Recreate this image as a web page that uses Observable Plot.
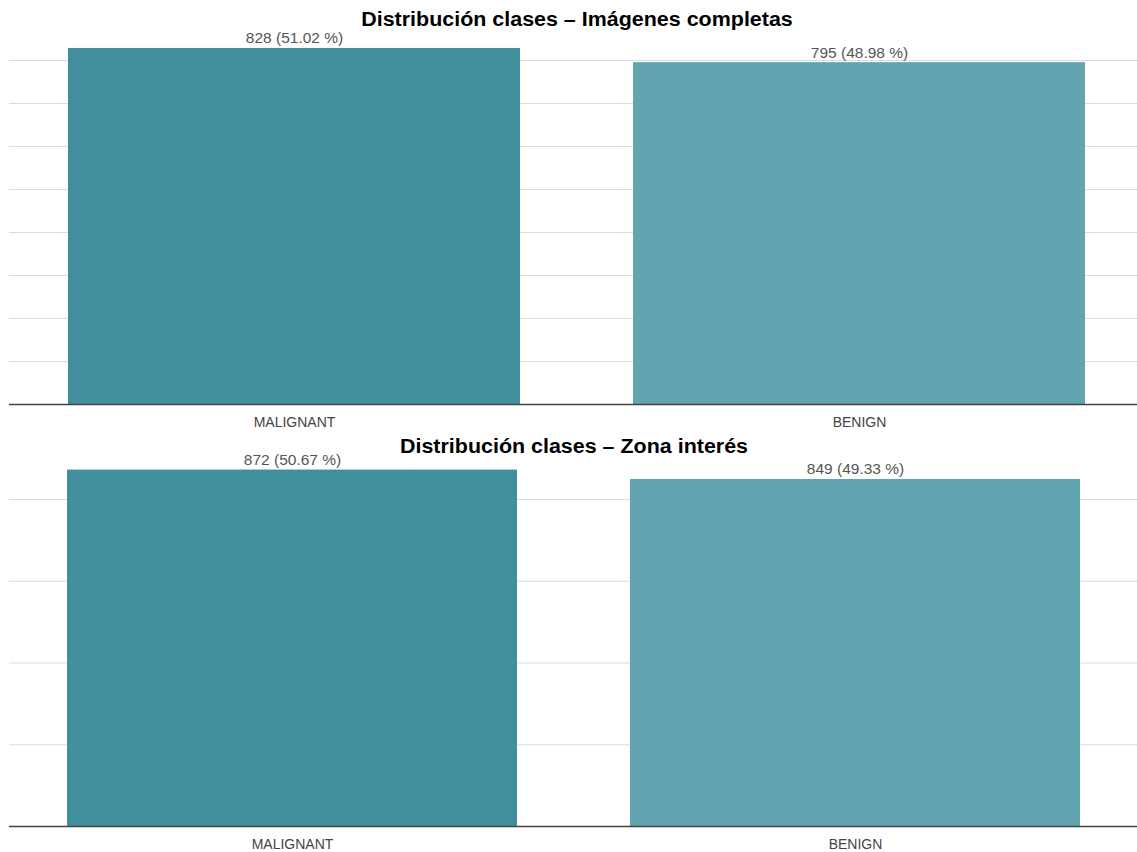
<!DOCTYPE html>
<html>
<head>
<meta charset="utf-8">
<script src="https://cdn.jsdelivr.net/npm/d3@7"></script>
<script src="https://cdn.jsdelivr.net/npm/@observablehq/plot@0.6"></script>
<style>
  html, body { margin: 0; padding: 0; background: #fff; }
  #wrap { position: relative; width: 1137px; height: 852px; overflow: hidden; font-family: "Liberation Sans", Arial, sans-serif; }
  .title { position: absolute; z-index: 2; font-weight: bold; font-size: 19.5px; line-height: 20px; color: #000; white-space: nowrap; transform: translateX(-50%) scaleX(1.1); transform-origin: 50% 0; }
  .panel { position: absolute; left: 0; z-index: 1; }
</style>
</head>
<body>
<div id="wrap">
  <div class="title" id="t1" style="left:577px; top:9px;"></div>
  <div class="title" id="t2" style="left:574px; top:436px;"></div>
  <div class="panel" id="p1" style="top:0px;"></div>
  <div class="panel" id="p2" style="top:430px;"></div>
</div>
<script>
const titleFull = "Distribución clases – Imágenes completas";
const titleRoi = "Distribución clases – Zona interés";
const categories = ["MALIGNANT", "BENIGN"];
const countsFull = [828, 795];
const pctFull = ["51.02", "48.98"];
const countsRoi = [872, 849];
const pctRoi = ["50.67", "49.33"];
const gridFull = [100, 200, 300, 400, 500, 600, 700, 800];
const gridRoi = [200, 400, 600, 800];
const colors = ["#418f9c", "#62a5b0"];

function panel(counts, pct, grid, height, yRange, xRange) {
  const data = categories.map((c, i) => ({cat: c, n: counts[i], label: `${counts[i]} (${pct[i]} %)`}));
  return Plot.plot({
    width: 1137,
    height,
    marginLeft: 9,
    marginRight: 0,
    marginTop: 0,
    marginBottom: 0,
    style: {fontFamily: "'Liberation Sans', Arial, sans-serif", background: "transparent", overflow: "visible"},
    x: {domain: categories, range: xRange, paddingInner: 0.2, paddingOuter: 0.1, axis: null},
    y: {domain: [0, 800], range: yRange, axis: null},
    color: {domain: categories, range: colors},
    marks: [
      Plot.ruleY(grid, {stroke: "#dcdcdc", strokeWidth: 1}),
      Plot.barY(data, {x: "cat", y: "n", fill: "cat"}),
      Plot.ruleY([0], {stroke: "#444", strokeWidth: 1.6}),
      Plot.text(data, {x: "cat", y: "n", text: "label", dy: -10, fontSize: 15.5, fill: "#555"}),
      Plot.text(categories, {x: d => d, y: () => 0, text: d => d, dy: 18, fontSize: 14, fill: "#444"})
    ]
  });
}

document.getElementById("t1").textContent = titleFull;
document.getElementById("t2").textContent = titleRoi;
document.getElementById("p1").appendChild(panel(countsFull, pctFull, gridFull, 430, [404, 60], [11.4, 1142.6]));
document.getElementById("p2").appendChild(panel(countsRoi, pctRoi, gridRoi, 422, [396, 69], [10.6, 1137.4]));
</script>
</body>
</html>
